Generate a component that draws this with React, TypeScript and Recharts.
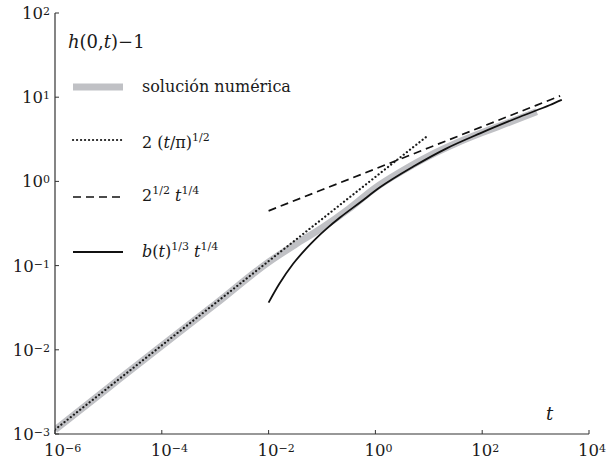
import React from 'react';
import { LineChart, Line, XAxis, YAxis } from 'recharts';

// numerical solution (gray band)
const numT = [1e-6, 1e-5, 1e-4, 1e-3, 1e-2, 0.0316, 0.1, 0.316, 1, 3.16, 10, 31.6, 100, 316, 1050];
const numY = [0.00112, 0.00355, 0.0112, 0.0347, 0.11, 0.178, 0.28, 0.47, 0.84, 1.33, 2.0, 2.82, 3.8, 5.0, 6.73];

// 2 (t/pi)^(1/2) dotted
const dotT = [1e-6, 1e-5, 1e-4, 1e-3, 1e-2, 1e-1, 1, 10];
const dotY = [0.00113, 0.00357, 0.0113, 0.0357, 0.113, 0.357, 1.13, 3.57];

// 2^(1/2) t^(1/4) dashed
const dashT = [0.01, 0.1, 1, 10, 100, 1000, 2880];
const dashY = [0.447, 0.795, 1.41, 2.51, 4.47, 7.95, 10.36];

// b(t)^(1/3) t^(1/4) solid
const solT = [0.01, 0.0158, 0.0288, 0.05, 0.0794, 0.1225, 0.217, 0.515, 1.22, 5.13, 21.6, 91.2, 513, 1862, 3100];
const solY = [0.0363, 0.0603, 0.105, 0.158, 0.214, 0.275, 0.372, 0.562, 0.85, 1.5, 2.47, 3.72, 5.86, 8.07, 9.3];

const xTicks = [1e-6, 1e-4, 1e-2, 1, 1e2, 1e4];
const xTickExp = ['\u22126', '\u22124', '\u22122', '0', '2', '4'];
const yTicks = [1e-3, 1e-2, 1e-1, 1, 10, 100];
const yTickExp = ['\u22123', '\u22122', '\u22121', '0', '1', '2'];

const zip = (ts: number[], ys: number[]) => ts.map((t, i) => ({ t, y: ys[i] }));
const numData = zip(numT, numY);
const dotData = zip(dotT, dotY);
const dashData = zip(dashT, dashY);
const solData = zip(solT, solY);

const TXT: React.CSSProperties = { fontFamily: "'DejaVu Serif'" };
const AX = '#333';
const GRAY = '#c0c1c5';
const INK = '#1a1a1a';

const findIdx = (arr: number[], v: number) => {
  let best = 0;
  let bd = Infinity;
  arr.forEach((a, i) => {
    const d = Math.abs(Math.log10(a) - Math.log10(v));
    if (d < bd) { bd = d; best = i; }
  });
  return best;
};

const BottomTick = (props: any) => {
  const { x, y, payload } = props;
  const i = findIdx(xTicks, payload.value);
  return (
    <g>
      <line x1={x} y1={y} x2={x} y2={y - 4} stroke={AX} strokeWidth={1} />
      <text x={x - 11} y={456} style={TXT} fontSize={16.5} fill={INK}>
        10<tspan fontSize={11} dy={-4}>{xTickExp[i]}</tspan>
      </text>
    </g>
  );
};

const TopTick = (props: any) => {
  const { x, y } = props;
  return <line x1={x} y1={y} x2={x} y2={y + 4} stroke={AX} strokeWidth={1} />;
};

const LeftTick = (props: any) => {
  const { x, y, payload } = props;
  const i = findIdx(yTicks, payload.value);
  return (
    <g>
      <line x1={x} y1={y} x2={x + 4} y2={y} stroke={AX} strokeWidth={1} />
      <text x={50} y={y + 6} textAnchor="end" style={TXT} fontSize={16.5} fill={INK}>
        10<tspan fontSize={11} dy={-4}>{yTickExp[i]}</tspan>
      </text>
    </g>
  );
};

const RightTick = (props: any) => {
  const { x, y } = props;
  return <line x1={x} y1={y} x2={x - 4} y2={y} stroke={AX} strokeWidth={1} />;
};

export default function App() {
  return (
    <div style={{ position: 'absolute', left: 0, top: 0, width: 615, height: 463, background: '#fff' }}>
      <LineChart width={615} height={463} margin={{ top: 13, right: 26, bottom: 0, left: 0 }}>
        <XAxis
          xAxisId={0}
          dataKey="t"
          type="number"
          scale="log"
          domain={[1e-6, 1e4]}
          allowDataOverflow
          ticks={xTicks}
          tick={<BottomTick />}
          tickSize={0}
          tickMargin={0}
          tickLine={false}
          height={29}
          axisLine={{ stroke: AX, strokeWidth: 1.2 }}
          interval={0}
        />
        <XAxis
          xAxisId="top"
          orientation="top"
          dataKey="t"
          type="number"
          scale="log"
          domain={[1e-6, 1e4]}
          allowDataOverflow
          ticks={xTicks}
          tick={<TopTick />}
          tickSize={0}
          tickMargin={0}
          tickLine={false}
          height={0}
          axisLine={{ stroke: AX, strokeWidth: 1 }}
          interval={0}
        />
        <YAxis
          yAxisId={0}
          type="number"
          scale="log"
          domain={[1e-3, 1e2]}
          allowDataOverflow
          ticks={yTicks}
          tick={<LeftTick />}
          tickSize={0}
          tickMargin={0}
          tickLine={false}
          width={55}
          axisLine={{ stroke: AX, strokeWidth: 1.2 }}
          interval={0}
        />
        <YAxis
          yAxisId="right"
          orientation="right"
          type="number"
          scale="log"
          domain={[1e-3, 1e2]}
          allowDataOverflow
          ticks={yTicks}
          tick={<RightTick />}
          tickSize={0}
          tickMargin={0}
          tickLine={false}
          width={0}
          axisLine={{ stroke: AX, strokeWidth: 1 }}
          interval={0}
        />
        <Line data={numData} dataKey="y" type="monotone" stroke={GRAY} strokeWidth={7} dot={false} isAnimationActive={false} />
        <Line data={dotData} dataKey="y" type="linear" stroke="#1a1a1a" strokeWidth={2.2} strokeLinecap="round" strokeDasharray="0.1 3.9" dot={false} isAnimationActive={false} />
        <Line data={dashData} dataKey="y" type="linear" stroke="#111" strokeWidth={1.7} strokeDasharray="8 5" dot={false} isAnimationActive={false} />
        <Line data={solData} dataKey="y" type="monotone" stroke="#111" strokeWidth={1.8} dot={false} isAnimationActive={false} />
      </LineChart>
      <svg width={615} height={463} style={{ position: 'absolute', left: 0, top: 0, pointerEvents: 'none' }}>
        <g fill={INK} style={TXT}>
          <text x={68} y={48} fontSize={18}>
            <tspan fontStyle="italic">h</tspan>(0,<tspan fontStyle="italic">t</tspan>)−1
          </text>
          <line x1={73} y1={87} x2={123} y2={87} stroke={GRAY} strokeWidth={7} />
          <text x={142} y={92} fontSize={16}>solución numérica</text>

          <line x1={73} y1={140} x2={123} y2={140} stroke="#1a1a1a" strokeWidth={2.2} strokeLinecap="round" strokeDasharray="0.1 3.9" />
          <text x={142} y={148} fontSize={16}>
            2 (<tspan fontStyle="italic">t</tspan>/π)<tspan fontSize={11} dy={-7}>1/2</tspan>
          </text>

          <line x1={73} y1={197} x2={123} y2={197} stroke="#111" strokeWidth={1.7} strokeDasharray="8 5" />
          <text x={142} y={201} fontSize={16}>
            2<tspan fontSize={11} dy={-7}>1/2</tspan><tspan dy={7}>{'\u00a0'}</tspan><tspan fontStyle="italic">t</tspan><tspan fontSize={11} dy={-7}>1/4</tspan>
          </text>

          <line x1={73} y1={252} x2={123} y2={252} stroke="#111" strokeWidth={1.8} />
          <text x={142} y={257} fontSize={16}>
            <tspan fontStyle="italic">b</tspan>(<tspan fontStyle="italic">t</tspan>)<tspan fontSize={11} dy={-7}>1/3</tspan><tspan dy={7}>{'\u00a0'}</tspan><tspan fontStyle="italic">t</tspan><tspan fontSize={11} dy={-7}>1/4</tspan>
          </text>

          <text x={546} y={420} fontSize={18} fontStyle="italic">t</text>
        </g>
      </svg>
    </div>
  );
}
